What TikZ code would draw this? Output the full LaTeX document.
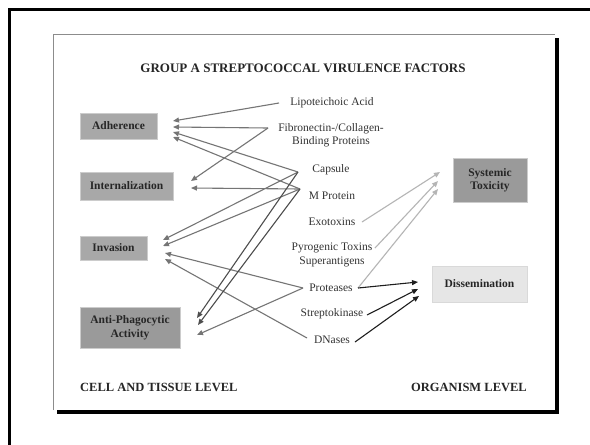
\documentclass[tikz,border=0pt]{standalone}
\usepackage{fontspec}
\setmainfont{Liberation Serif}
\usetikzlibrary{arrows.meta}
\definecolor{boxA}{HTML}{A8A8A8}
\definecolor{boxB}{HTML}{9A9A9A}
\definecolor{boxC}{HTML}{E6E6E6}
\definecolor{txt}{HTML}{333333}
\definecolor{lnmid}{HTML}{757575}
\definecolor{lndark}{HTML}{4E4E4E}
\definecolor{lnlight}{HTML}{B5B5B5}
\definecolor{lnblack}{HTML}{1E1E1E}
\tikzset{
  lbl/.style={inner sep=0pt, text=txt, font=\fontsize{11.5}{13.5}\selectfont, align=center},
  cat/.style={inner sep=0pt, text=black!85, font=\bfseries\fontsize{11.5}{13.5}\selectfont, align=center, draw=black!20, line width=0.6pt},
  lvl/.style={inner sep=0pt, text=black!85, font=\bfseries\fontsize{12.5}{14}\selectfont},
  tip/.style={-{Triangle[length=6pt,width=5pt]}, line width=1.1pt},
  gline/.style={tip, draw=lnmid, color=lnmid},
  dline/.style={tip, draw=lndark, color=lndark},
  lline/.style={tip, draw=lnlight, color=lnlight},
  bline/.style={tip, draw=lnblack, color=lnblack},
}
\begin{document}
\begin{tikzpicture}[x=1pt,y=-1pt]
\useasboundingbox (0,0) rectangle (590,445);
\fill[white] (0,0) rectangle (590,445);
% outer frame
\draw[line width=3pt] (9.5,446) -- (9.5,9.5) -- (591,9.5);
% inner panel
\fill[black] (555,38) rectangle (559,414);
\fill[black] (57,410) rectangle (559,414);
\draw[black!45, line width=0.8pt] (53,410) -- (53,34) -- (555,34);
% title
\node[lvl, font=\bfseries\fontsize{13}{15}\selectfont] (title) at (303,68) {GROUP A STREPTOCOCCAL VIRULENCE FACTORS};
% category boxes
\node[cat, fill=boxA, minimum width=77pt, minimum height=26pt] (adh) at (118.5,126) {Adherence};
\node[cat, fill=boxA, minimum width=93pt, minimum height=28pt] (int) at (126.5,186) {Internalization};
\node[cat, fill=boxA, minimum width=67pt, minimum height=24pt] (inv) at (113.5,248) {Invasion};
\node[cat, fill=boxB, minimum width=100pt, minimum height=41pt] (aph) at (130,327.5) {Anti-Phagocytic\\Activity};
\node[cat, fill=boxB, minimum width=74pt, minimum height=44pt] (sys) at (490,180) {Systemic\\Toxicity};
\node[cat, fill=boxC, draw=black!15, minimum width=95pt, minimum height=36pt] (dis) at (479.5,284) {Dissemination};
% factor labels
\node[lbl] (lta) at (332,103) {Lipoteichoic Acid};
\node[lbl] (fib) at (331,135) {Fibronectin-/Collagen-\\Binding Proteins};
\node[lbl] (cap) at (331,170) {Capsule};
\node[lbl] (mpr) at (332,196) {M Protein};
\node[lbl] (exo) at (332,222) {Exotoxins};
\node[lbl] (pyr) at (332,255) {Pyrogenic Toxins\\Superantigens};
\node[lbl] (pro) at (331,288) {Proteases};
\node[lbl] (stk) at (332,314) {Streptokinase};
\node[lbl] (dna) at (332,340) {DNases};
% level labels
\node[lvl, anchor=west] (cell) at (80,387) {CELL AND TISSUE LEVEL};
\node[lvl, anchor=east] (org) at (527,387) {ORGANISM LEVEL};
% ports
\coordinate (ltaW) at (279,103);
\coordinate (fibW) at (268,128);
\coordinate (capW) at (298,172);
\coordinate (mprW) at (300,189);
\coordinate (proW) at (303,288);
\coordinate (dnaW) at (307,338);
\coordinate (exoE) at (362,222);
\coordinate (pyrE) at (375,248);
\coordinate (proE) at (358,288);
\coordinate (stkE) at (367,315);
\coordinate (dnaE) at (355,342);
% target tips
\coordinate (adh1) at (173,121);
\coordinate (adh2) at (173,127);
\coordinate (adh3) at (173,132);
\coordinate (adh4) at (173,137);
\coordinate (int1) at (191,181);
\coordinate (int2) at (191,188);
\coordinate (inv1) at (163,240);
\coordinate (inv2) at (163,246);
\coordinate (inv3) at (165,253);
\coordinate (inv4) at (165,259);
\coordinate (aph1) at (197,318);
\coordinate (aph2) at (198,325);
\coordinate (aph3) at (197,335);
\coordinate (sys1) at (440,172);
\coordinate (sys2) at (438,181);
\coordinate (sys3) at (438,189);
\coordinate (dis1) at (418,282);
\coordinate (dis2) at (418,289);
\coordinate (dis3) at (419,296);
% connectors to Adherence
\draw[gline] (ltaW) -- (adh1);
\draw[gline] (fibW) -- (adh2);
\draw[gline] (capW) -- (adh3);
\draw[gline] (mprW) -- (adh4);
% Internalization
\draw[gline] (fibW) -- (int1);
\draw[gline] (mprW) -- (int2);
% Invasion
\draw[gline] (capW) -- (inv1);
\draw[gline] (mprW) -- (inv2);
\draw[gline] (proW) -- (inv3);
\draw[gline] (dnaW) -- (inv4);
% Anti-Phagocytic
\draw[dline] (capW) -- (aph1);
\draw[dline] (mprW) -- (aph2);
\draw[gline] (proW) -- (aph3);
% Systemic toxicity
\draw[lline] (exoE) -- (sys1);
\draw[lline] (pyrE) -- (sys2);
\draw[lline] (proE) -- (sys3);
% Dissemination
\draw[bline] (proE) -- (dis1);
\draw[bline] (stkE) -- (dis2);
\draw[bline] (dnaE) -- (dis3);
\end{tikzpicture}
\end{document}
